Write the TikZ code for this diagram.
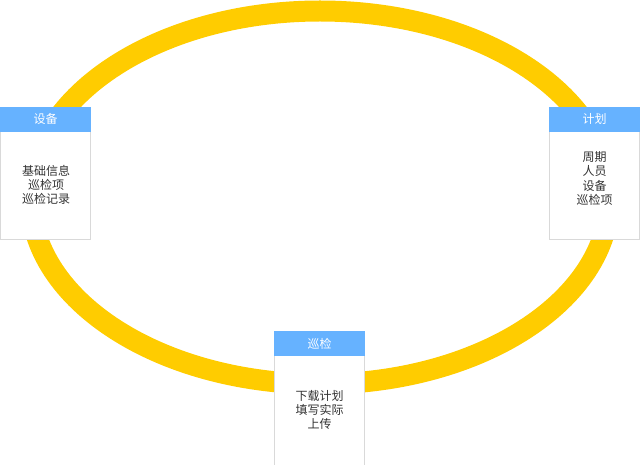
\documentclass[tikz,border=0pt]{standalone}
\usepackage{fontspec}
\setmainfont{Noto Sans CJK SC}
\definecolor{ringyellow}{RGB}{255,204,0}
\definecolor{headblue}{RGB}{102,178,255}
\definecolor{boxgray}{RGB}{217,217,217}
\definecolor{txtgray}{RGB}{51,51,51}
\tikzset{
  ring/.style={draw=ringyellow, line width=21pt},
  bodybox/.style={draw=boxgray, line width=0.8pt, fill=white, minimum width=90pt, inner sep=0pt, anchor=north west},
  headbox/.style={fill=headblue, draw=none, minimum width=91pt, minimum height=25pt, inner sep=0pt, anchor=north west, text=white, font=\fontsize{12pt}{14pt}\selectfont},
  bodytext/.style={align=center, text=txtgray, font=\fontsize{12pt}{14.3pt}\selectfont, inner sep=0pt}
}
\begin{document}
\begin{tikzpicture}[x=1pt,y=-1pt]
\useasboundingbox (0,0) rectangle (640,465);
\draw[ring] (320,197.5) ellipse [x radius=289.5, y radius=186.5];
% 设备
\node[bodybox, minimum height=132pt] (b1) at (0.4,107) {};
\node[headbox] (h1) at (0,106.5) {设备};
\node[bodytext] (t1) at (46,185) {基础信息\\巡检项\\巡检记录};
% 计划
\node[bodybox, minimum height=132pt] (b2) at (549.4,107) {};
\node[headbox] (h2) at (549,106.5) {计划};
\node[bodytext] (t2) at (594.5,178.5) {周期\\人员\\设备\\巡检项};
% 巡检
\node[bodybox, minimum height=134pt] (b3) at (274.4,331) {};
\node[headbox] (h3) at (274,331) {巡检};
\node[bodytext] (t3) at (319.5,410) {下载计划\\填写实际\\上传};
\end{tikzpicture}
\end{document}
